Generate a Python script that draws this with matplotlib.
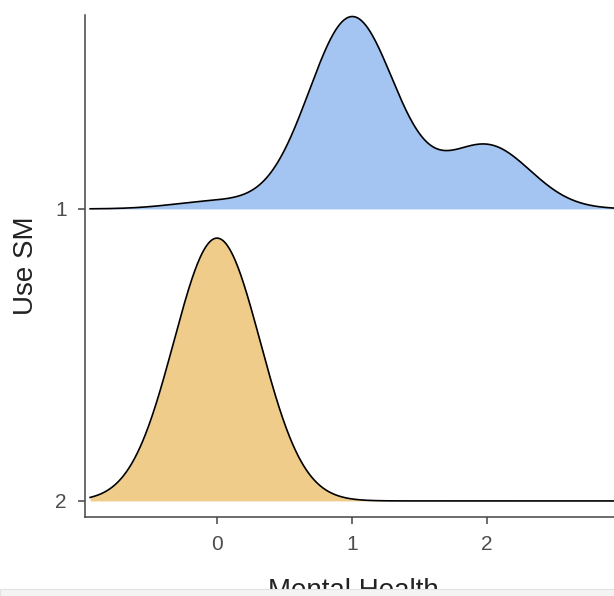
import numpy as np
import matplotlib
matplotlib.use("Agg")
import matplotlib.pyplot as plt
from matplotlib.patches import Rectangle

plt.rcParams['font.family'] = ['Liberation Sans', 'DejaVu Sans']

# Mental Health scores and how often they occur, per Use SM group
groups = ["1", "2"]
mh_values = {"1": [0.0, 1.0, 2.0], "2": [0.0]}
mh_counts = {"1": [4, 100, 33], "2": [100]}
bandwidth = {"1": 0.32, "2": 0.32}
fill_colors = {"1": "#A4C4F1", "2": "#F0CC8B"}
x_range = (-0.94, 3.1)
ridge_scale = 0.9


def kde(xs, values, counts, bw):
    values = np.asarray(values)
    w = np.asarray(counts, dtype=float)
    w = w / w.sum()
    d = (xs[:, None] - values[None, :]) / bw
    return (w[None, :] * np.exp(-0.5 * d ** 2)).sum(axis=1) / (bw * np.sqrt(2 * np.pi))


xs = np.linspace(x_range[0], x_range[1], 800)
dens = {g: kde(xs, mh_values[g], mh_counts[g], bandwidth[g]) for g in groups}
dmax = max(d.max() for d in dens.values())

fig = plt.figure(figsize=(6.14, 5.96), dpi=100)
ax = fig.add_axes([85 / 614, 1 - 517 / 596, (622 - 85) / 614, (517 - 15) / 596])

# group "1" sits on top, "2" at the bottom
base = {"1": 1.0, "2": 0.0}
for g in groups:
    h = dens[g] / dmax * ridge_scale
    ax.fill_between(xs, base[g], base[g] + h, color=fill_colors[g], lw=0, zorder=2)
    ax.plot(xs, base[g] + h, color="black", lw=1.2, zorder=3)

ax.set_xlim(-0.978, 3.0)
ax.set_ylim(-0.055, 1.664)
ax.set_xticks([0, 1, 2])
ax.set_yticks([base[g] for g in groups])
ax.set_yticklabels(groups)

for s in ["top", "right"]:
    ax.spines[s].set_visible(False)
for s in ["left", "bottom"]:
    ax.spines[s].set_color("#444444")
    ax.spines[s].set_linewidth(1.1)
ax.tick_params(colors="#444444", labelsize=15, length=5, width=1.1, pad=8)
for lab in ax.get_xticklabels() + ax.get_yticklabels():
    lab.set_color("#4D4D4D")

ax.set_xlabel("Mental Health", fontsize=20, color="#222222", labelpad=17)
ax.set_ylabel("Use SM", fontsize=20, color="#222222", labelpad=12)

# light strip at the bottom edge of the screenshot
fig.patches.append(Rectangle((0, 0), 1, 7 / 596, transform=fig.transFigure,
                             facecolor="#F4F4F4", edgecolor="#E2E2E2", lw=0.8, zorder=10))

fig.savefig("out.png", dpi=100)
